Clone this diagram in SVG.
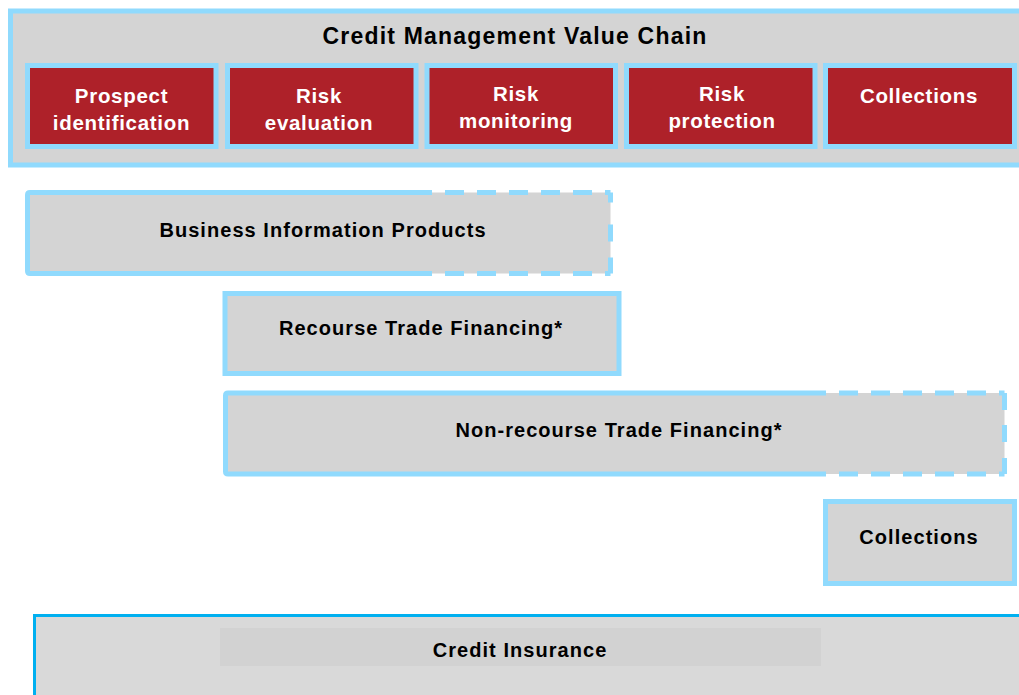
<svg xmlns="http://www.w3.org/2000/svg" width="1019" height="695" viewBox="0 0 1019 695">
  <style>
    .frame { fill: #D4D4D4; stroke: #90DAFD; stroke-width: 5; }
    .stage { fill: #AE2129; stroke: #90DAFD; stroke-width: 5; }
    .edge { fill: none; stroke: #90DAFD; stroke-width: 5; }
    .dash { fill: none; stroke: #90DAFD; stroke-width: 5; stroke-dasharray: 19 13; stroke-dashoffset: 19; }
    .fill { fill: #D4D4D4; }
    text { font-family: "Liberation Sans", Arial, sans-serif; font-weight: bold; text-anchor: middle; }
    .title { font-size: 23px; fill: #000; letter-spacing: 1.2px; }
    .stage-label { font-size: 20.5px; fill: #FFFFFF; letter-spacing: 0.7px; }
    .label { font-size: 20px; fill: #000; letter-spacing: 1.05px; }
  </style>

  <!-- Value chain header -->
  <g id="value-chain">
    <rect class="frame" x="10.5" y="11" width="1020" height="154"/>
    <text class="title" x="515" y="44">Credit Management Value Chain</text>
  </g>

  <g id="stage-prospect">
    <rect class="stage" x="27.5" y="65.5" width="188.5" height="81"/>
    <text class="stage-label" x="121.5" y="103">Prospect</text>
    <text class="stage-label" x="121.5" y="130">identification</text>
  </g>
  <g id="stage-evaluation">
    <rect class="stage" x="227.5" y="65.5" width="188.5" height="81"/>
    <text class="stage-label" x="319" y="103">Risk</text>
    <text class="stage-label" x="319" y="130">evaluation</text>
  </g>
  <g id="stage-monitoring">
    <rect class="stage" x="427" y="65.5" width="188.5" height="81"/>
    <text class="stage-label" x="516" y="101">Risk</text>
    <text class="stage-label" x="516" y="128">monitoring</text>
  </g>
  <g id="stage-protection">
    <rect class="stage" x="626.5" y="65.5" width="188.5" height="81"/>
    <text class="stage-label" x="722" y="101">Risk</text>
    <text class="stage-label" x="722" y="128">protection</text>
  </g>
  <g id="stage-collections">
    <rect class="stage" x="825.5" y="65.5" width="189" height="81"/>
    <text class="stage-label" x="919" y="103">Collections</text>
  </g>

  <!-- Product coverage bars: solid where the offer is full, dashed where partial -->
  <g id="business-information">
    <rect class="fill" x="27.5" y="192.5" width="583" height="81" rx="2"/>
    <path class="edge" d="M432 192.5 H30 Q27.5 192.5 27.5 195 V271 Q27.5 273.5 30 273.5 H432"/>
    <path class="dash" d="M432 192.5 H610.5"/>
    <path class="dash" d="M432 273.5 H610.5"/>
    <path class="edge" d="M610.5 192.5 V273.5" stroke-dasharray="10 22 17 16 16"/>
    <text class="label" x="323" y="237">Business Information Products</text>
  </g>

  <g id="recourse-financing">
    <rect class="frame" x="225" y="293.5" width="394" height="80"/>
    <text class="label" x="421" y="335">Recourse Trade Financing*</text>
  </g>

  <g id="non-recourse-financing">
    <rect class="fill" x="225.5" y="393" width="779" height="81" rx="2"/>
    <path class="edge" d="M826 393 H228 Q225.5 393 225.5 395.5 V471.5 Q225.5 474 228 474 H826"/>
    <path class="dash" d="M826 393 H1004.5"/>
    <path class="dash" d="M826 474 H1004.5"/>
    <path class="edge" d="M1004.5 393 V474" stroke-dasharray="17 15 17 16 16"/>
    <text class="label" x="619" y="437">Non-recourse Trade Financing*</text>
  </g>

  <g id="collections">
    <rect class="frame" x="825.5" y="501.5" width="189" height="82"/>
    <text class="label" x="919" y="544">Collections</text>
  </g>

  <g id="credit-insurance">
    <rect x="34.5" y="615.5" width="1000" height="100" fill="#D9D9D9" stroke="#00B0F0" stroke-width="3"/>
    <rect x="220" y="628" width="601" height="38" fill="#D2D2D2"/>
    <text class="label" x="520" y="657">Credit Insurance</text>
  </g>

  <g id="connectors"/>
</svg>
